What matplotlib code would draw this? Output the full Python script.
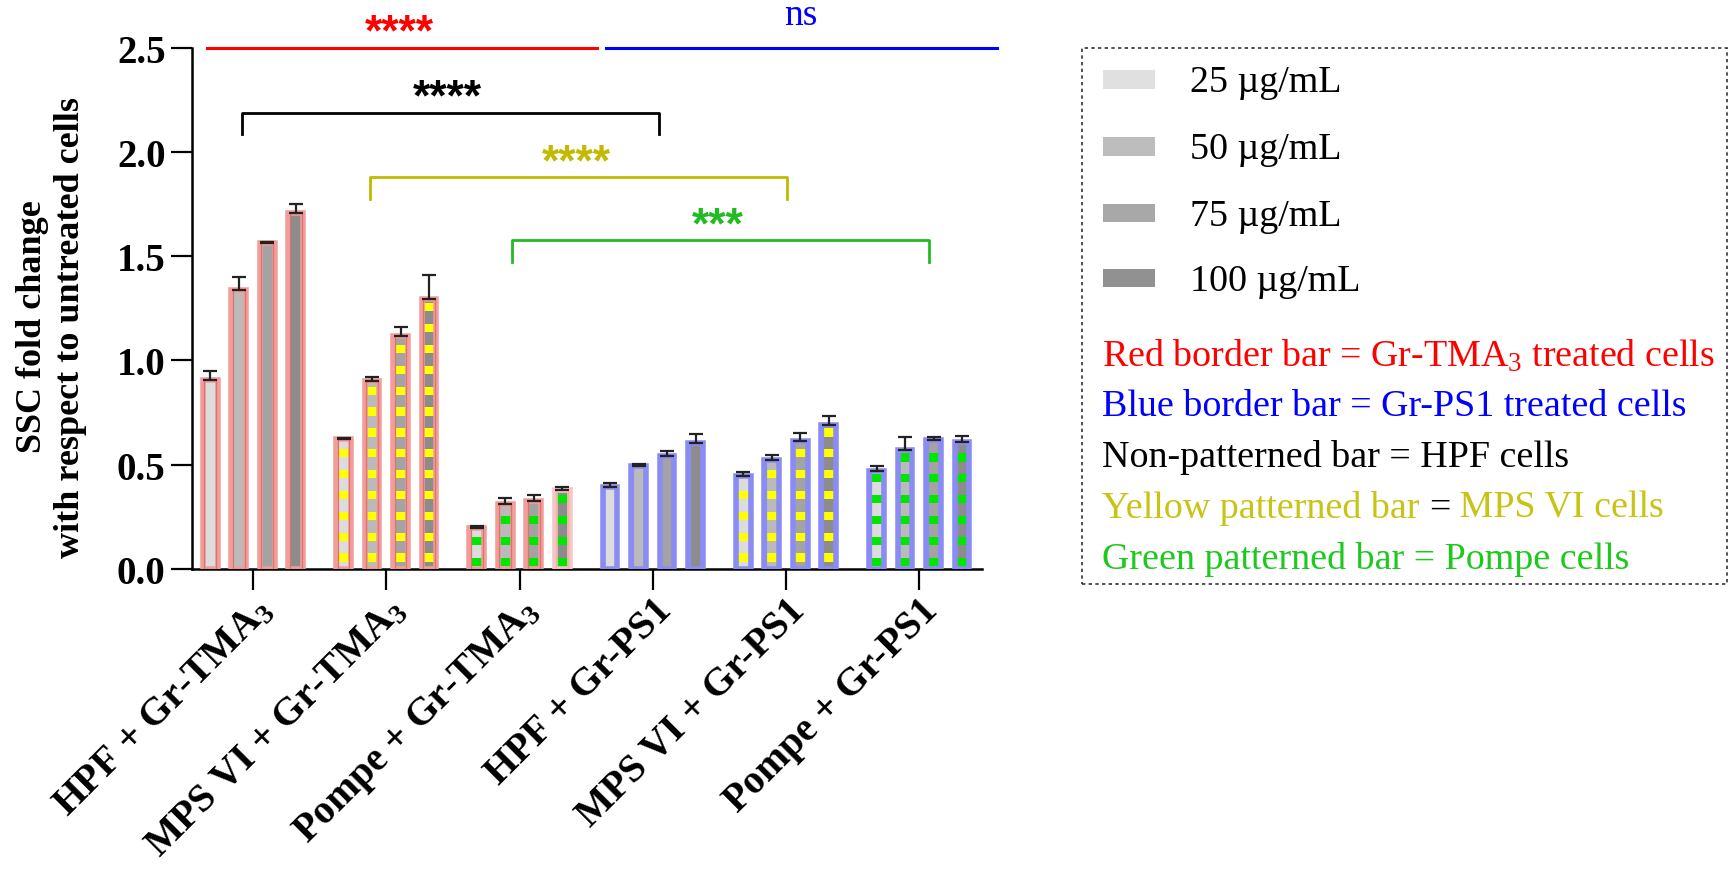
import numpy as np
import matplotlib
matplotlib.use("Agg")
import matplotlib.pyplot as plt
from matplotlib.patches import Rectangle

plt.rcParams['font.family'] = ['Liberation Serif', 'DejaVu Serif']
plt.rcParams['mathtext.fontset'] = 'custom'
plt.rcParams['mathtext.rm'] = 'Liberation Serif'
plt.rcParams['mathtext.it'] = 'Liberation Serif:italic'
plt.rcParams['mathtext.bf'] = 'Liberation Serif:bold'

# ---------------- data ----------------
groups = [r'HPF + Gr-TMA$_\mathbf{3}$', r'MPS VI + Gr-TMA$_\mathbf{3}$', r'Pompe + Gr-TMA$_\mathbf{3}$',
          'HPF + Gr-PS1', 'MPS VI + Gr-PS1', 'Pompe + Gr-PS1']
concentrations = ['25 µg/mL', '50 µg/mL', '75 µg/mL', '100 µg/mL']
treatment = ['TMA3', 'TMA3', 'TMA3', 'PS1', 'PS1', 'PS1']
cell_pattern = ['none', 'yellow', 'green', 'none', 'yellow', 'green']

means = [
    [0.905, 1.340, 1.565, 1.705],
    [0.625, 0.900, 1.115, 1.295],
    [0.195, 0.310, 0.325, 0.378],
    [0.392, 0.492, 0.542, 0.606],
    [0.446, 0.524, 0.612, 0.690],
    [0.470, 0.572, 0.617, 0.610],
]
errs = [
    [0.045, 0.060, 0.005, 0.045],
    [0.005, 0.020, 0.045, 0.115],
    [0.012, 0.032, 0.032, 0.015],
    [0.018, 0.013, 0.022, 0.040],
    [0.020, 0.022, 0.040, 0.045],
    [0.022, 0.060, 0.018, 0.026],
]

# significance annotations: (x_left, x_right, y_top, y_leg_bottom, label, label_x, label_baseline_y, color)
brackets = [
    (-0.083, 3.05, 2.185, 2.085, '****', 1.46, 2.205, 'black'),
    (0.88, 4.01, 1.879, 1.774, '****', 2.43, 1.894, '#c2b900'),
    (1.94, 5.07, 1.577, 1.472, '***', 3.49, 1.592, '#22bb22'),
]
top_lines = [
    (-0.345, 2.583, 2.5, '****', 1.10, 2.517, 'red'),
    (2.65, 5.58, 2.5, 'ns', 4.11, 2.613, 'blue'),
]

# ---------------- style ----------------
fill_colors = ['#dcdcdc', '#bababa', '#a3a3a3', '#8c8c8c']
legend_fill = ['#e0e0e0', '#bdbdbd', '#a8a8a8', '#919191']
edge_colors = {'TMA3': '#f29d9a', 'PS1': '#8b8cf3'}
inner_edge = {'TMA3': '#dc7371', 'PS1': '#8b8cf3'}
pattern_colors = {'yellow': '#ffff00', 'green': '#00e600'}

fig = plt.figure(figsize=(17.33, 8.78), dpi=100)
ax = fig.add_axes([0.1108, 0.3508, 0.4558, 0.5938])

offsets = (np.arange(4) - 1.5) * 0.214
bar_w = 0.110

for g in range(len(groups)):
    for c in range(4):
        x = g + offsets[c]
        v = means[g][c]
        ec = edge_colors[treatment[g]]
        iec = inner_edge[treatment[g]]
        if g == 2 and c == 3:
            ec = '#f8c6c2'
            iec = '#f3b0ab'
        ax.bar(x, v, width=bar_w, color=fill_colors[c], edgecolor='none', zorder=2)
        pat = cell_pattern[g]
        if pat != 'none':
            phase = 0.035 if pat == 'yellow' else 0.015
            ys = np.arange(phase, v - 0.035, 0.1)
            ax.bar(np.full(len(ys), x), 0.04, bottom=ys, width=bar_w * 0.95,
                   color=pattern_colors[pat], edgecolor='none', zorder=2.5)
        ax.bar(x, v, width=bar_w, color='none', edgecolor=ec, linewidth=4.0, zorder=3)
        ax.bar(x, v, width=bar_w * 0.80, color='none', edgecolor=iec, linewidth=0.9, zorder=3.1)
        ax.errorbar(x, v, yerr=[[0], [errs[g][c]]], fmt='none', ecolor='#222222',
                    elinewidth=1.6, capsize=5, capthick=1.6, zorder=4)

# significance lines
for (x0, x1, y, lab, lx, ly, col) in top_lines:
    ax.plot([x0, x1], [y, y], color=col, lw=2.2, clip_on=False, zorder=5)
    if lab == 'ns':
        ax.text(lx, ly, lab, ha='center', va='baseline', fontsize=27, color=col, clip_on=False)
    else:
        ax.text(lx, ly, lab, ha='center', va='baseline', fontsize=32, fontweight='bold',
                color=col, family='Liberation Sans', clip_on=False)

for (xl, xr, yt, yb, lab, lx, ly, col) in brackets:
    ax.plot([xl, xl, xr, xr], [yb, yt, yt, yb], color=col, lw=2.0, clip_on=False, zorder=5)
    ax.text(lx, ly, lab, ha='center', va='baseline', fontsize=32, fontweight='bold',
            color=col, family='Liberation Sans', clip_on=False)

# axes styling
ax.set_xlim(-0.458, 5.47)
ax.set_ylim(0, 2.5)
ax.set_yticks([0.0, 0.5, 1.0, 1.5, 2.0, 2.5])
ax.set_yticklabels(['0.0', '0.5', '1.0', '1.5', '2.0', '2.5'], fontsize=28, fontweight='bold')
ax.set_xticks(range(len(groups)))
ax.set_xticklabels(groups, rotation=45, ha='right', va='top', rotation_mode='anchor',
                   fontsize=28.5, fontweight='bold')
for s in ['top', 'right']:
    ax.spines[s].set_visible(False)
for s in ['left', 'bottom']:
    ax.spines[s].set_linewidth(1.8)
ax.tick_params(axis='both', length=15, width=1.6, direction='out')
ax.tick_params(axis='y', pad=4)
ax.tick_params(axis='x', pad=1)
ax.set_ylabel('SSC fold change\nwith respect to untreated cells', fontsize=26,
              fontweight='bold', linespacing=1.2)
ax.yaxis.set_label_coords(-0.133, 0.466)

# legend box
box_x, box_y, box_w, box_h = 0.6243, 0.3337, 0.3722, 0.6105
box = Rectangle((box_x, box_y), box_w, box_h, transform=fig.transFigure, fill=False,
                edgecolor='#333333', linewidth=1.2, linestyle=(0, (2, 2)))
fig.patches.append(box)

renderer = fig.canvas.get_renderer()
# choose a legend font size so the longest line spans the box like in the reference
probe = fig.text(0, 0, r'Red border bar = Gr-TMA$_3$ treated cells', fontsize=26)
w_probe = probe.get_window_extent(renderer=renderer).width
probe.remove()
target_w = 614.0 / 1733.0 * fig.bbox.width
leg_fs = 26 * target_w / w_probe

conc_y = [0.9053, 0.8289, 0.7535, 0.6792]
for i, lab in enumerate(concentrations):
    fig.patches.append(Rectangle((0.6365, conc_y[i] - 0.0105 + 0.003), 0.030, 0.021,
                                 transform=fig.transFigure, facecolor=legend_fill[i],
                                 edgecolor='none'))
    fig.text(0.6867, conc_y[i], lab, fontsize=leg_fs, va='center', ha='left', color='black')

desc_texts = [
    [(r'Red border bar = Gr-TMA$_3$ treated cells', 'red')],
    [('Blue border bar = Gr-PS1 treated cells', 'blue')],
    [('Non-patterned bar = HPF cells', 'black')],
    [('Yellow patterned bar ', '#c8c314'), ('=', 'black'), (' MPS VI cells', '#c8c314')],
    [('Green patterned bar = Pompe cells', '#1ec81e')],
]
desc_y = [0.5942, 0.5363, 0.4784, 0.4207, 0.3625]
for pieces, y in zip(desc_texts, desc_y):
    xpos = 0.6359
    for txt, col in pieces:
        t = fig.text(xpos, y, txt, fontsize=leg_fs, va='center', ha='left', color=col)
        bb = t.get_window_extent(renderer=renderer)
        xpos += bb.width / fig.bbox.width

fig.savefig('out.png', dpi=100)
